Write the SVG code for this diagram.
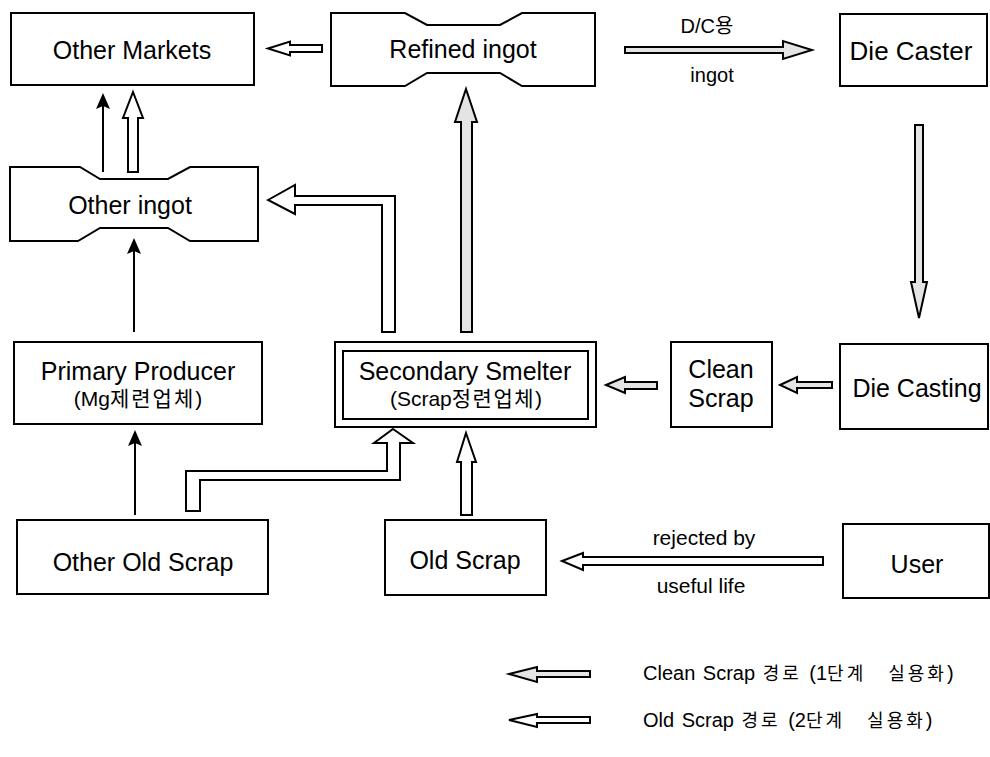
<svg xmlns="http://www.w3.org/2000/svg" width="990" height="757" viewBox="0 0 990 757">
<defs>
<style>
.box{fill:#fff;stroke:#000;stroke-width:2}
.t{font-family:"Liberation Sans","Noto Sans CJK KR",Arial,sans-serif;font-size:25px;fill:#000;text-anchor:middle}
.s{font-size:21px}
.l{font-family:"Liberation Sans","Noto Sans CJK KR",Arial,sans-serif;font-size:20px;fill:#000;text-anchor:middle}
.lg{font-family:"Liberation Sans","Noto Sans CJK KR",Arial,sans-serif;font-size:20px;fill:#000;word-spacing:2px}
.ko{font-size:18px;letter-spacing:3px;word-spacing:14px}
.clean{fill:#e4e4e4;stroke:#000;stroke-width:2;stroke-linejoin:miter}
.old{fill:#fff;stroke:#000;stroke-width:2;stroke-linejoin:miter}
.thin{fill:none;stroke:#000;stroke-width:2;marker-end:url(#ah)}
</style>
<marker id="ah" markerUnits="userSpaceOnUse" markerWidth="16" markerHeight="14" viewBox="0 0 16 14" refX="12" refY="7" orient="auto">
<path d="M0,0 L16,7 L0,14 L3,7 Z" fill="#000"/>
</marker>
</defs>

<g id="other-markets"><rect class="box" x="11" y="13" width="243" height="72"/><text class="t" x="132" y="59">Other Markets</text></g>
<g id="refined-ingot"><polygon class="box" points="331,13 405,13 427,25 500,25 522,13 595,13 595,86 522,86 500,73 427,73 405,86 331,86"/><text class="t" x="463" y="58">Refined ingot</text></g>
<g id="die-caster"><rect class="box" x="840" y="14" width="147" height="72"/><text class="t" x="911" y="60" style="font-size:26px">Die Caster</text></g>
<g id="other-ingot"><polygon class="box" points="10,167 80,167 100,179 168,179 190,167 258,167 258,241 190,241 168,228 100,228 78,241 10,241"/><text class="t" x="130" y="214">Other ingot</text></g>
<g id="primary-producer"><rect class="box" x="14" y="342" width="248" height="82"/><text class="t" x="138" y="380">Primary Producer</text><text class="t s" x="138" y="406">(Mg<tspan letter-spacing="2">제련업체</tspan>)</text></g>
<g id="secondary-smelter"><rect class="box" x="335" y="342" width="261" height="85"/><rect class="box" x="343" y="351" width="245" height="68"/><text class="t" x="465" y="380">Secondary Smelter</text><text class="t s" x="466" y="406">(Scrap<tspan letter-spacing="1.5">정련업체</tspan>)</text></g>
<g id="clean-scrap"><rect class="box" x="671" y="342" width="101" height="85"/><text class="t" x="721" y="378">Clean</text><text class="t" x="721" y="407">Scrap</text></g>
<g id="die-casting"><rect class="box" x="840" y="344" width="148" height="85"/><text class="t" x="917" y="397">Die Casting</text></g>
<g id="other-old-scrap"><rect class="box" x="17" y="520" width="251" height="74"/><text class="t" x="143" y="571">Other Old Scrap</text></g>
<g id="old-scrap"><rect class="box" x="385" y="520" width="161" height="75"/><text class="t" x="465" y="569">Old Scrap</text></g>
<g id="user"><rect class="box" x="843" y="524" width="146" height="74"/><text class="t" x="917" y="573">User</text></g>

<g id="connectors">
<polygon class="old" points="268,48.5 290,41.5 290,45 322,45 322,52 290,52 290,55.5"/>
<polygon class="clean" points="625,47 783,47 783,41 812,50 783,59 783,53 625,53"/>
<text class="l" x="707" y="33">D/C용</text>
<text class="l" x="712" y="82">ingot</text>
<polygon class="clean" points="915,125 923,125 923,282 927,282 919,318 911,282 915,282"/>
<polygon class="clean" points="780,385 797,377 797,382 832,382 832,388 797,388 797,393"/>
<polygon class="clean" points="606,385 625,377 625,382 657,382 657,389 625,389 625,393"/>
<polygon class="clean" points="466,89 477,122 472,122 472,332 461,332 461,122 455,122"/>
<polygon class="old" points="268,200 295,185 295,196 395,196 395,332 382,332 382,205 295,205 295,214"/>
<polygon class="old" points="133,92 143,118 138,118 138,172 128,172 128,118 123,118"/>
<line class="thin" x1="103" y1="172" x2="103" y2="97"/>
<line class="thin" x1="134" y1="332" x2="134" y2="242"/>
<line class="thin" x1="135" y1="515" x2="135" y2="434"/>
<polygon class="old" points="393,429 413,443 400,443 400,480 200,480 200,511 186,511 186,471 387,471 387,443 374,443"/>
<polygon class="old" points="466,433 476,462 472,462 472,515 461,515 461,462 457,462"/>
<polygon class="old" points="562,561 583,553 583,557 823,557 823,565 583,565 583,570"/>
<text class="l" x="704" y="545" style="font-size:21px">rejected by</text>
<text class="l" x="701" y="593" style="font-size:21px">useful life</text>
</g>

<g id="legend">
<polygon class="clean" points="509,674 537,667 537,671 590,671 590,677 537,677 537,682"/>
<text class="lg" x="643" y="680">Clean Scrap <tspan class="ko">경로</tspan> (1<tspan class="ko">단계 실용화</tspan>)</text>
<polygon class="old" points="509,720 537,714 537,717 590,717 590,723 537,723 537,727"/>
<text class="lg" x="643" y="727">Old Scrap <tspan class="ko">경로</tspan> (2<tspan class="ko">단계 실용화</tspan>)</text>
</g>
</svg>
